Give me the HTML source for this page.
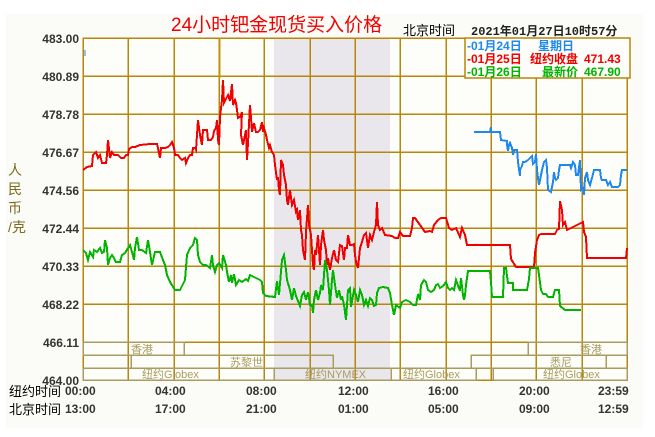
<!DOCTYPE html>
<html><head><meta charset="utf-8"><style>
body{margin:0;background:#fff;}
svg text{font-family:"Liberation Sans","Noto Sans CJK SC",sans-serif;}
.m{font-family:"Liberation Mono","Noto Sans CJK SC",monospace;font-weight:bold;}
</style></head><body>
<svg width="655" height="432" viewBox="0 0 655 432" xmlns="http://www.w3.org/2000/svg">
<rect x="0" y="0" width="655" height="432" fill="#ffffff"/>
<rect x="6" y="14" width="637" height="414" fill="#fbfcf7"/>
<rect x="83" y="38" width="544" height="342" fill="#fdfef9"/>
<rect x="274" y="38" width="116" height="342" fill="#e9e7ec"/>
<g stroke="#b8860b" stroke-width="1.5" shape-rendering="crispEdges">
<line x1="83" y1="76" x2="627" y2="76"/><line x1="83" y1="114" x2="627" y2="114"/>
<line x1="83" y1="152" x2="627" y2="152"/><line x1="83" y1="190" x2="627" y2="190"/>
<line x1="83" y1="228" x2="627" y2="228"/><line x1="83" y1="266" x2="627" y2="266"/>
<line x1="83" y1="304" x2="627" y2="304"/><line x1="83" y1="342" x2="627" y2="342"/>
<line x1="128" y1="38" x2="128" y2="380"/><line x1="174" y1="38" x2="174" y2="380"/>
<line x1="219" y1="38" x2="219" y2="380"/><line x1="264" y1="38" x2="264" y2="380"/>
<line x1="310" y1="38" x2="310" y2="380"/><line x1="355" y1="38" x2="355" y2="380"/>
<line x1="400" y1="38" x2="400" y2="380"/><line x1="446" y1="38" x2="446" y2="380"/>
<line x1="491" y1="38" x2="491" y2="380"/><line x1="536" y1="38" x2="536" y2="380"/>
<line x1="582" y1="38" x2="582" y2="380"/>
<rect x="83" y="38" width="544" height="342" fill="none"/>
</g>
<g fill="none" stroke="#a89c60" stroke-width="1.5" shape-rendering="crispEdges">
<rect x="83" y="342" width="101" height="13"/><rect x="528" y="342" width="99" height="13"/>
<rect x="131" y="355" width="202" height="13"/><rect x="471" y="355" width="135" height="13"/>
<rect x="83" y="368" width="191" height="12"/><rect x="274" y="368" width="117" height="12"/>
<rect x="391" y="368" width="85" height="12"/><rect x="493" y="368" width="134" height="12"/>
</g>
<g fill="#a89c60" font-size="11">
<text x="131" y="353">香港</text><text x="580" y="353">香港</text>
<text x="230" y="366">苏黎世</text><text x="550" y="366">悉尼</text>
<text x="142" y="378">纽约Globex</text><text x="305" y="378">纽约NYMEX</text>
<text x="403" y="378">纽约Globex</text><text x="543" y="378">纽约Globex</text>
</g>
<g fill="none" stroke-width="2" stroke-linejoin="miter" shape-rendering="crispEdges">
<polyline stroke="#f00000" points="83,170 87,167 92,166 93,155 96,152 98,158 100,155 102,163 106,163 107,155 108,140 110,158 112,152 114,155 118,155 121,158 124,158 126,155 128,155 129,149 132,147 135,147 140,145 150,144 157,144 158,148 160,158 161,148 165,148 168,147 170,145 172,142 174,148 175,155 178,155 180,158 182,160 185,158 186,163 188,158 190,155 192,155 193,148 195,148 196,150 198,120 200,135 202,145 203,130 207,130 208,140 211,140 213,137 214,131 216,128 217,120 218,140 219,145 220,117 222,100 223,80 224,103 228,95 230,101 232,84 233,105 235,100 236,103 237,110 238,118 240,117 242,112 241,135 243,145 244,140 246,130 247,160 248,143 250,105 251,118 252,132 254,123 256,132 258,132 260,130 262,122 263,132 264,128 266,135 267,140 269,148 270,145 272,152 274,155 275,165 277,180 278,177 279,190 280,195 281,160 283,165 284,175 286,185 287,200 288,205 290,190 292,205 294,200 296,212 297,210 298,220 300,210 301,230 302,235 303,250 305,260 306,232 308,205 309,225 311,235 312,250 313,265 314,270 315,250 316,255 318,235 320,265 321,245 323,230 324,240 326,250 327,265 328,258 330,270 332,258 334,250 336,260 338,262 340,245 342,246 344,260 345,248 347,248 348,235 350,245 352,245 354,244 355,255 356,262 358,268 360,248 362,242 364,235 366,233 368,248 370,235 372,240 374,232 376,225 377,202 378,225 380,230 382,228 385,235 392,236 395,238 398,238 400,232 403,236 410,236 412,228 413,218 415,218 420,225 425,232 430,231 432,232 434,225 438,220 441,218 446,218 449,228 452,230 456,228 460,237 462,228 465,235 467,245 477,245 510,245 511,259 516,267 534,267 535,253 537,240 539,235 541,234 555,234 557,230 559,229 560,201 562,210 563,225 565,222 567,230 583,222 584,232 586,237 587,258 626,258 627,248"/>
<polyline stroke="#00b400" points="83,250 86,253 88,260 90,252 93,257 94,250 97,252 100,248 102,253 104,252 105,240 107,248 108,265 110,258 112,255 114,258 116,262 120,262 122,255 125,253 128,248 130,245 132,252 134,260 135,248 137,237 139,250 142,250 146,253 148,240 150,252 152,265 155,252 160,252 163,260 165,265 167,275 170,282 175,290 180,290 185,280 187,255 190,248 193,245 195,238 197,240 198,255 200,262 203,265 206,265 210,268 212,255 213,265 215,272 217,265 219,263 222,268 223,255 226,265 227,272 229,282 231,275 232,283 234,274 236,285 239,280 242,282 246,279 248,281 250,275 254,277 260,280 262,282 263,293 266,296 275,297 277,281 279,295 282,260 284,255 286,270 287,280 290,290 292,300 294,288 296,296 300,306 302,295 304,292 306,300 308,292 310,305 312,305 313,313 314,300 316,290 318,300 320,293 321,285 323,290 325,260 327,270 329,290 330,305 332,280 333,270 335,285 337,298 339,290 341,300 342,296 344,305 346,320 348,290 350,288 351,307 354,290 356,295 358,302 360,290 362,295 364,305 366,300 368,306 370,298 372,300 374,306 376,305 377,293 379,288 383,287 388,288 390,293 392,305 394,315 396,305 400,308 402,302 406,300 410,302 413,305 416,305 418,294 420,300 421,285 424,280 426,282 428,290 431,292 434,290 436,285 438,284 440,288 443,286 446,282 448,288 450,290 452,288 454,290 456,280 460,291 461,278 463,295 464,300 465,295 466,285 468,271 490,271 491,282 492,297 503,297 504,268 506,268 507,276 508,283 513,283 513,290 527,290 529,279 530,268 538,268 539,275 541,290 543,294 546,294 548,297 553,297 555,290 559,290 560,306 565,310 581,310"/>
<polyline stroke="#1e88f0" points="474,132 490,132 491,127 491,132 500,132 501,140 507,141 507,145 508,151 509,145 510,143 512,148 513,155 514,150 517,150 518,162 520,176 520,170 522,166 523,162 525,162 528,160 530,158 532,156 533,164 535,162 536,154 537,170 538,178 539,185 541,175 542,170 544,162 546,160 547,168 548,190 551,192 553,182 554,172 555,178 556,180 558,178 559,170 560,165 570,165 571,168 573,162 575,165 576,175 578,175 580,160 581,190 583,188 584,195 585,178 587,172 588,180 590,185 592,178 594,170 600,170 601,178 602,180 606,180 608,185 610,182 612,187 618,187 620,185 621,175 622,170 627,170"/>
<line stroke="#1e88f0" x1="85" y1="50" x2="85" y2="56" stroke-width="1"/>
<line stroke="#c8a000" x1="220" y1="38" x2="220" y2="78" stroke-width="1"/>
</g>
<rect x="465" y="38" width="165" height="40" fill="#fdfef9" stroke="#b8860b" stroke-width="1.5"/>
<g font-size="12" class="m">
<text x="467" y="50" fill="#1e88f0">-01月24日</text><text x="538" y="50" fill="#1e88f0">星期日</text>
<text x="467" y="63" fill="#f00000">-01月25日</text><text x="530" y="63" fill="#f00000">纽约收盘</text><text x="584" y="63" fill="#f00000">471.43</text>
<text x="467" y="76" fill="#00b400">-01月26日</text><text x="542" y="76" fill="#00b400">最新价</text><text x="584" y="76" fill="#00b400">467.90</text>
</g>
<text x="171" y="31" font-size="19" fill="#f00000" font-family="Liberation Serif,Noto Serif CJK SC,serif">24小时钯金现货买入价格</text>
<text x="403" y="35" font-size="13" fill="#000">北京时间</text>
<text x="471" y="35" font-size="12" class="m" fill="#222">2021年01月27日10时57分</text>
<g font-size="12" class="m" fill="#333" text-anchor="end">
<text x="79" y="43">483.00</text><text x="79" y="81">480.89</text><text x="79" y="119">478.78</text>
<text x="79" y="157">476.67</text><text x="79" y="195">474.56</text><text x="79" y="233">472.44</text>
<text x="79" y="271">470.33</text><text x="79" y="309">468.22</text><text x="79" y="347">466.11</text>
<text x="79" y="385">464.00</text>
</g>
<g font-size="14" fill="#7a6a20">
<text x="8" y="175">人</text><text x="8" y="194">民</text><text x="8" y="213">币</text><text x="8" y="232">/克</text>
</g>
<g font-size="13" fill="#000"><text x="9" y="396">纽约时间</text><text x="9" y="414">北京时间</text></g>
<g font-size="12" class="m" fill="#333">
<text x="65" y="395">00:00</text><text x="155" y="395">04:00</text><text x="246" y="395">08:00</text>
<text x="338" y="395">12:00</text><text x="428" y="395">16:00</text><text x="519" y="395">20:00</text><text x="598" y="395">23:59</text>
<text x="65" y="413">13:00</text><text x="155" y="413">17:00</text><text x="246" y="413">21:00</text>
<text x="338" y="413">01:00</text><text x="428" y="413">05:00</text><text x="519" y="413">09:00</text><text x="598" y="413">12:59</text>
</g>
</svg>
</body></html>
